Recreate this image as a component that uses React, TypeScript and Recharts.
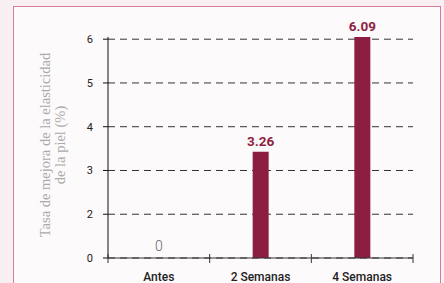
import { BarChart, Bar, XAxis, YAxis, CartesianGrid, LabelList, ReferenceDot } from 'recharts';

// categories and values
const categories = ['Antes', '2 Semanas', '4 Semanas'];
// printed value above each bar
const valueLabels = ['0', '3.26', '6.09'];
// bar top as drawn, in axis units (the axis bottom sits at 1 and is labelled "0")
const barHeights = [1, 3.43, 6.05];
const yTicks = [1, 2, 3, 4, 5, 6];

const W = 444;
const H = 283;
const margin = { top: 37, right: 31, bottom: 0, left: 78 };
const yAxisWidth = 30;
const xAxisHeight = 25;
const plotWidth = W - margin.left - margin.right - yAxisWidth;
const bandWidth = plotWidth / categories.length;

const data = categories.map((name, i) => ({
  name,
  height: barHeights[i],
  label: valueLabels[i],
}));

const CategoryTick = (props: any) => {
  const { x, y, payload, index } = props;
  const left = x - bandWidth / 2;
  const right = x + bandWidth / 2;
  const axisY = y - 8;
  return (
    <g>
      <line x1={left} x2={left} y1={axisY - 4} y2={axisY + 5} stroke="#333" />
      {index === categories.length - 1 && (
        <line x1={right} x2={right} y1={axisY - 4} y2={axisY + 5} stroke="#333" />
      )}
      <text
        x={x}
        y={y + 15}
        textAnchor="middle"
        fontFamily="Roboto"
        fontWeight={500}
        fontSize={12}
        fill="#222"
      >
        {payload.value}
      </text>
    </g>
  );
};

const ValueLabel = (props: any) => {
  const { x, y, width, value } = props;
  if (value === valueLabels[0]) return null;
  return (
    <text
      x={x + width / 2}
      y={y - 6}
      textAnchor="middle"
      fontFamily="Roboto"
      fontWeight={700}
      fontSize={13.5}
      fill="#8e1f42"
    >
      {value}
    </text>
  );
};

const ZeroLabel = (props: any) => {
  const { viewBox } = props;
  const cx = viewBox.x + (viewBox.width || 0) / 2;
  return (
    <text
      x={cx}
      y={viewBox.y - 7}
      textAnchor="middle"
      fontFamily="Roboto"
      fontWeight={300}
      fontSize={14}
      fill="#666"
    >
      {valueLabels[0]}
    </text>
  );
};

const AxisTitle = () => (
  <text
    transform="translate(53,145) rotate(-90)"
    textAnchor="middle"
    fontFamily="Liberation Serif"
    fontSize={14.5}
    fill="#aaa"
  >
    <tspan x={0} dy={-3}>Tasa de mejora de la elasticidad</tspan>
    <tspan x={0} dy={15}>de la piel (%)</tspan>
  </text>
);

export default function App() {
  return (
    <div
      style={{
        position: 'absolute',
        left: 0,
        top: 0,
        width: W,
        height: H,
        overflow: 'hidden',
        background: '#f7eff1',
      }}
    >
      <div
        style={{
          position: 'absolute',
          left: 13,
          top: 6,
          width: 426,
          height: 300,
          border: '1.5px solid #d57d92',
          background: '#fdfafb',
        }}
      />
      <div style={{ position: 'absolute', left: 0, top: 0 }}>
        <BarChart width={W} height={H} data={data} margin={margin} barSize={16}>
          <CartesianGrid
            vertical={false}
            stroke="#333"
            strokeDasharray="7 5"
            syncWithTicks
          />
          <XAxis
            dataKey="name"
            height={xAxisHeight}
            stroke="#333"
            tickLine={false}
            tick={<CategoryTick />}
            interval={0}
          />
          <YAxis
            type="number"
            domain={[1, 6]}
            ticks={yTicks}
            width={yAxisWidth}
            stroke="#111"
            tickSize={5}
            tickMargin={10}
            tickFormatter={(v: number) => (v === 1 ? '0' : String(v))}
            tick={{ fontSize: 11, fill: '#222', fontFamily: 'Roboto' }}
            label={<AxisTitle />}
          />
          <Bar dataKey="height" fill="#8c1f41" isAnimationActive={false}>
            <LabelList dataKey="label" content={<ValueLabel />} />
          </Bar>
          <ReferenceDot
            x={categories[0]}
            y={barHeights[0]}
            r={0}
            fill="none"
            stroke="none"
            label={<ZeroLabel />}
          />
        </BarChart>
      </div>
    </div>
  );
}
